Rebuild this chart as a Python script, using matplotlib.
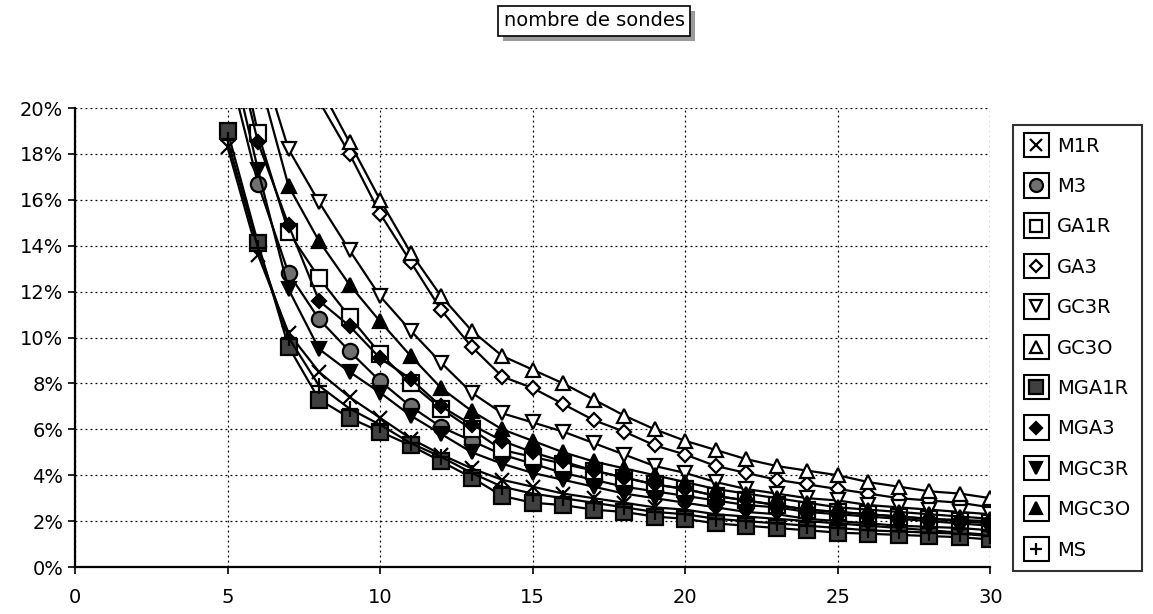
import matplotlib
matplotlib.use("Agg")
import matplotlib.pyplot as plt
from matplotlib.ticker import PercentFormatter
from matplotlib.lines import Line2D
from matplotlib.patches import Rectangle
from matplotlib.legend_handler import HandlerLine2D

# nombre de sondes (x) and error rate in % for each method
x = list(range(5, 31))

m1r   = [18.3, 13.6, 10.2, 8.5, 7.4, 6.5, 5.6, 4.9, 4.3, 3.8, 3.5, 3.2, 3.0, 2.8, 2.6, 2.5, 2.3, 2.2, 2.1, 2.0, 1.9, 1.8, 1.7, 1.6, 1.5, 1.4]
m3    = [22.0, 16.7, 12.8, 10.8, 9.4, 8.1, 7.0, 6.1, 5.5, 4.9, 4.5, 4.1, 3.8, 3.5, 3.3, 3.1, 2.9, 2.7, 2.6, 2.4, 2.3, 2.2, 2.1, 2.0, 1.9, 1.8]
ga1r  = [25.0, 18.9, 14.6, 12.6, 10.9, 9.3, 8.0, 6.9, 6.0, 5.1, 4.8, 4.5, 4.2, 3.9, 3.6, 3.4, 3.1, 2.9, 2.7, 2.5, 2.4, 2.3, 2.2, 2.1, 2.0, 1.9]
ga3   = [30.0, 27.0, 24.0, 20.3, 18.0, 15.4, 13.3, 11.2, 9.6, 8.3, 7.8, 7.1, 6.4, 5.9, 5.3, 4.9, 4.4, 4.1, 3.8, 3.6, 3.4, 3.2, 3.0, 2.9, 2.8, 2.6]
gc3r  = [26.0, 22.5, 18.2, 15.9, 13.8, 11.8, 10.3, 8.9, 7.6, 6.7, 6.3, 5.9, 5.4, 4.9, 4.4, 4.1, 3.7, 3.4, 3.2, 3.0, 2.9, 2.7, 2.6, 2.5, 2.4, 2.3]
gc3o  = [31.0, 28.0, 25.0, 21.0, 18.5, 16.0, 13.7, 11.8, 10.3, 9.2, 8.6, 8.0, 7.3, 6.6, 6.0, 5.5, 5.1, 4.7, 4.4, 4.2, 4.0, 3.7, 3.5, 3.3, 3.2, 3.0]
mga1r = [19.0, 14.1, 9.6, 7.3, 6.5, 5.9, 5.3, 4.6, 3.9, 3.1, 2.8, 2.7, 2.5, 2.4, 2.2, 2.1, 1.9, 1.8, 1.7, 1.6, 1.5, 1.45, 1.4, 1.35, 1.3, 1.2]
mga3  = [24.0, 18.5, 14.9, 11.6, 10.5, 9.1, 8.2, 7.0, 6.2, 5.5, 5.0, 4.6, 4.2, 3.9, 3.6, 3.4, 3.1, 2.9, 2.7, 2.5, 2.4, 2.3, 2.2, 2.1, 2.05, 2.0]
mgc3r = [23.0, 17.3, 12.1, 9.5, 8.5, 7.6, 6.6, 5.8, 5.0, 4.5, 4.1, 3.8, 3.5, 3.2, 3.0, 2.8, 2.6, 2.4, 2.3, 2.1, 2.0, 1.9, 1.8, 1.75, 1.7, 1.6]
mgc3o = [27.0, 21.5, 16.6, 14.2, 12.3, 10.7, 9.2, 7.8, 6.8, 6.0, 5.5, 5.0, 4.6, 4.3, 4.0, 3.7, 3.4, 3.2, 3.0, 2.8, 2.6, 2.5, 2.4, 2.3, 2.2, 2.1]
ms    = [18.6, 13.9, 10.0, 7.9, 6.9, 6.2, 5.4, 4.8, 4.1, 3.5, 3.2, 3.0, 2.8, 2.6, 2.4, 2.3, 2.1, 2.0, 1.9, 1.8, 1.7, 1.6, 1.55, 1.5, 1.45, 1.35]

names = ["M1R", "M3", "GA1R", "GA3", "GC3R", "GC3O", "MGA1R", "MGA3", "MGC3R", "MGC3O", "MS"]
series = [m1r, m3, ga1r, ga3, gc3r, gc3o, mga1r, mga3, mgc3r, mgc3o, ms]
# marker, face colour, size
styles = [("x", "black", 10), ("o", "#707070", 11), ("s", "white", 11), ("D", "white", 7),
          ("v", "white", 10), ("^", "white", 10), ("s", "#404040", 12), ("D", "black", 7),
          ("v", "black", 10), ("^", "black", 10), ("+", "black", 11)]

plt.rcParams['font.family'] = ['DejaVu Sans']

fig = plt.figure(figsize=(11.53, 6.14), dpi=100)
ax = fig.add_axes([0.065, 0.0765, 0.794, 0.7475])

handles = []
for name, vals, (mk, fc, sz) in zip(names, series, styles):
    ax.plot(x, vals, color="black", lw=1.6, marker=mk, markersize=sz,
            markerfacecolor=fc, markeredgecolor="black", markeredgewidth=1.6)
    handles.append(Line2D([], [], ls="none", marker=mk, markersize=sz * 0.85,
                          markerfacecolor=fc, markeredgecolor="black",
                          markeredgewidth=1.6, label=name))

ax.set_xlim(0, 30)
ax.set_ylim(0, 20)
ax.set_xticks(range(0, 31, 5))
ax.set_yticks(range(0, 21, 2))
ax.yaxis.set_major_formatter(PercentFormatter(100, decimals=0))
ax.grid(True, color="black", ls=(0, (1.5, 2.5)), lw=0.9)
ax.spines["top"].set_visible(False)
ax.spines["right"].set_visible(False)
ax.spines["left"].set_linewidth(1.6)
ax.spines["bottom"].set_linewidth(1.6)
ax.tick_params(axis="both", labelsize=14, direction="out", length=5, width=1.2)
ax.tick_params(axis="x", pad=10)


class BoxedMarker(HandlerLine2D):
    # draws the marker inside a small square, like the old Excel legend
    def create_artists(self, legend, orig_handle, xdescent, ydescent,
                       width, height, fontsize, trans):
        arts = super().create_artists(legend, orig_handle, xdescent, ydescent,
                                      width, height, fontsize, trans)
        side = height * 1.8
        cx = width / 2 - xdescent
        cy = height / 2 - ydescent
        box = Rectangle((cx - side / 2, cy - side / 2), side, side, fill=False,
                        ec="black", lw=1.5, transform=trans)
        return [box] + arts


leg = fig.legend(handles=handles, loc="upper left",
                 bbox_to_anchor=(1013 / 1153, 1 - 125 / 614),
                 handler_map={Line2D: BoxedMarker(numpoints=1)},
                 fontsize=14, frameon=True, fancybox=False,
                 handlelength=1.2, handletextpad=0.45, labelspacing=1.1,
                 borderpad=0.6, borderaxespad=0)
leg.get_frame().set_edgecolor("black")
leg.get_frame().set_linewidth(1.5)

# title box with a grey drop shadow
title = fig.text(594 / 1153, 1 - 21 / 614, "nombre de sondes", ha="center", va="center",
                 fontsize=14, color="black", zorder=5,
                 bbox=dict(boxstyle="square,pad=0.3", fc="white", ec="black", lw=1.2))
fig.canvas.draw()
bb = title.get_bbox_patch().get_window_extent()
fig.patches.append(Rectangle((bb.x0 + 5, bb.y0 - 5), bb.width, bb.height,
                             transform=None, fc="#9a9a9a", ec="none", zorder=1))

fig.savefig("out.png", dpi=100)
